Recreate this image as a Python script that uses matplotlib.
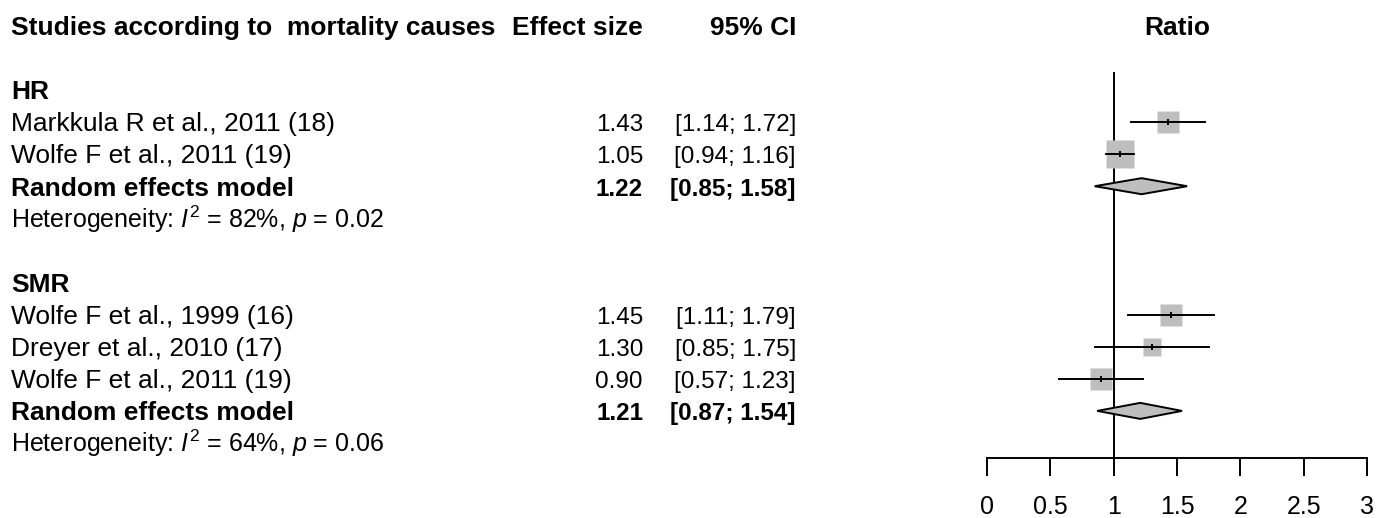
import numpy as np
import matplotlib
matplotlib.use("Agg")
import matplotlib.pyplot as plt
from matplotlib.transforms import blended_transform_factory

plt.rcParams['font.family'] = ['Liberation Sans', 'DejaVu Sans']
plt.rcParams['mathtext.fontset'] = 'custom'
plt.rcParams['mathtext.rm'] = 'Liberation Sans'
plt.rcParams['mathtext.it'] = 'Liberation Sans:italic'

# Study data per subgroup
hr_studies = ["Markkula R et al., 2011 (18)", "Wolfe F et al., 2011 (19)"]
hr_est = [1.43, 1.05]
hr_lower = [1.14, 0.94]
hr_upper = [1.72, 1.16]
hr_weight = [41.4, 58.6]
hr_pooled = [1.22, 0.85, 1.58]
hr_het = ("82%", "0.02")

smr_studies = ["Wolfe F et al., 1999 (16)", "Dreyer et al., 2010 (17)",
               "Wolfe F et al., 2011 (19)"]
smr_est = [1.45, 1.30, 0.90]
smr_lower = [1.11, 0.85, 0.57]
smr_upper = [1.79, 1.75, 1.23]
smr_weight = [37.5, 26.5, 37.5]
smr_pooled = [1.21, 0.87, 1.54]
smr_het = ("64%", "0.06")

xticks = [0, 0.5, 1, 1.5, 2, 2.5, 3]

W, H = 1386, 518
fig = plt.figure(figsize=(W / 100, H / 100), dpi=100)

# forest panel: x 0..3 spans pixels 987..1367, rows are 32.1 px apart
row0_px, row_px = 25.7, 32.1
axis_px = 458
ax = fig.add_axes([987 / W, (H - axis_px) / H, 380 / W, axis_px / H])
ax.set_xlim(0, 3)
ax.set_ylim((axis_px - row0_px) / row_px, -row0_px / row_px)
for s in ['top', 'left', 'right']:
    ax.spines[s].set_visible(False)
ax.spines['bottom'].set_linewidth(1.4)
ax.set_yticks([])
ax.set_xticks(xticks)
ax.set_xticklabels([f"{t:g}" for t in xticks], fontsize=18)
ax.tick_params(axis='x', length=13, width=1.4, pad=13.5)

trans = blended_transform_factory(fig.transFigure, ax.transData)
fs_name = 19
fs_num = 17.5
fs_head = 19
fs_het = 18
col_name = 11 / W
col_est = 643 / W
col_ci = 796 / W
shift = 0.29  # baseline sits below the row centre by half a cap height


def txt(x, y, s, size, **kw):
    ax.text(x, y + shift, s, transform=trans, va='baseline', fontsize=size,
            clip_on=False, **kw)


txt(col_name, 0, "Studies according to  mortality causes", fs_head,
    fontweight='bold')
txt(col_est, 0, "Effect size", fs_head, fontweight='bold', ha='right')
txt(col_ci, 0, "95% CI", fs_head, fontweight='bold', ha='right')
ax.text(1.5, shift, "Ratio", fontsize=fs_head, fontweight='bold',
        ha='center', va='baseline', clip_on=False)

box_k = 3.53 * 72 / 100  # box side in points per sqrt(weight)


def draw_group(start, label, studies, est, lo, hi, wt, pooled, het):
    txt(col_name, start, label, fs_name, fontweight='bold')
    for i, name in enumerate(studies):
        r = start + 1 + i
        txt(col_name, r, name, fs_name)
        txt(col_est, r, f"{est[i]:.2f}", fs_num, ha='right')
        txt(col_ci, r, f"[{lo[i]:.2f}; {hi[i]:.2f}]", fs_num, ha='right')
        ax.plot(est[i], r, marker='s', color='#bebebe', mec='none',
                ms=box_k * np.sqrt(wt[i]), zorder=2)
        ax.plot([lo[i], hi[i]], [r, r], color='black', lw=1.4, zorder=3)
        ax.plot(est[i], r, marker='|', color='black', ms=5, mew=1.4, zorder=3)
    r = start + 1 + len(studies)
    txt(col_name, r, "Random effects model", fs_name, fontweight='bold')
    txt(col_est, r, f"{pooled[0]:.2f}", fs_num, ha='right', fontweight='bold')
    txt(col_ci, r, f"[{pooled[1]:.2f}; {pooled[2]:.2f}]", fs_num, ha='right',
        fontweight='bold')
    h = 0.25
    ax.fill([pooled[1], pooled[0], pooled[2], pooled[0]],
            [r, r - h, r, r + h], facecolor='#bebebe', edgecolor='black',
            lw=1.4, zorder=3)
    txt(col_name, r + 1,
        r"Heterogeneity: $I^2$ = " + het[0] + r", $p$ = " + het[1], fs_het)


draw_group(2, "HR", hr_studies, hr_est, hr_lower, hr_upper, hr_weight,
           hr_pooled, hr_het)
draw_group(8, "SMR", smr_studies, smr_est, smr_lower, smr_upper, smr_weight,
           smr_pooled, smr_het)

# line of no effect
ax.plot([1, 1], [(73 - row0_px) / row_px, (axis_px - row0_px) / row_px],
        color='black', lw=1.4, zorder=1)

fig.savefig("out.png", dpi=100)
